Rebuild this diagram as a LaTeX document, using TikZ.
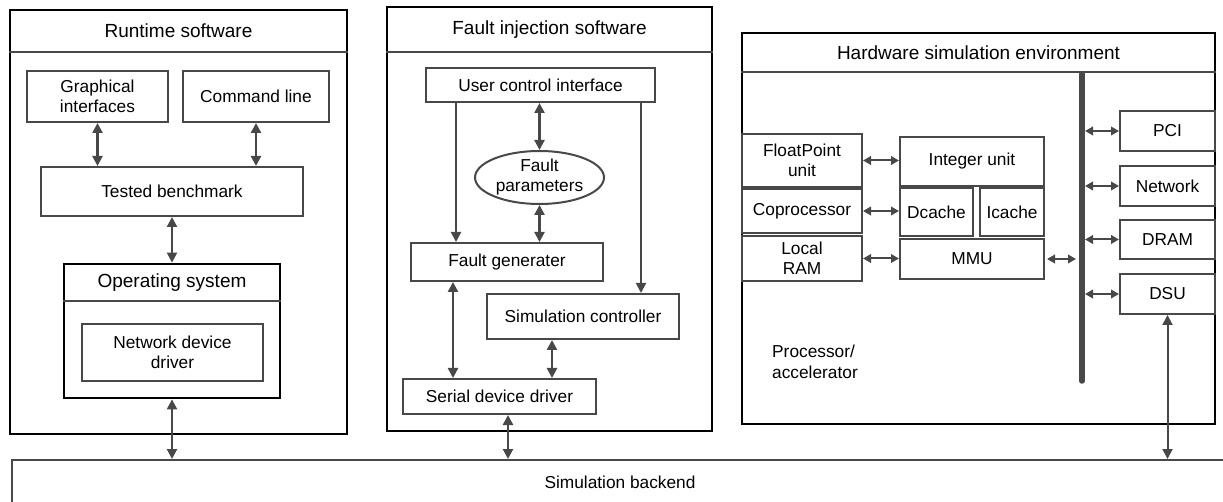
\documentclass[tikz,border=0pt]{standalone}
\usepackage{fontspec}
\setmainfont{Liberation Sans}
\usetikzlibrary{arrows.meta,shapes.geometric}
\definecolor{lc}{HTML}{484848}
\begin{document}
\begin{tikzpicture}[x=1pt,y=-1pt,
 every node/.style={font=\fontsize{17.3}{20}\selectfont, inner sep=0pt, align=center},
 ttl/.style={font=\fontsize{19}{22}\selectfont},
 sz/.style 2 args={minimum width=#1pt, minimum height=#2pt},
 outer/.style={draw=black, line width=2.8pt},
 box/.style={draw=lc, line width=2pt},
 arr/.style={draw=lc, line width=2.3pt, {Triangle[length=10pt,width=10pt]}-{Triangle[length=10pt,width=10pt]}},
 harr/.style={draw=lc, line width=2pt, {Triangle[length=8pt,width=8.5pt]}-{Triangle[length=8pt,width=8.5pt]}},
 arrone/.style={draw=lc, line width=2pt, -{Triangle[length=10pt,width=10pt]}},
]
\clip (0,0) rectangle (1223,502);
\fill[white] (0,0) rectangle (1223,502);

% ---------------- Simulation backend
\node[draw=lc, line width=2pt, sz={1238}{70}] (be) at (631,495) {};
\node (belbl) at (620,482) {Simulation backend};

% ---------------- Runtime software
\node[outer, sz={337}{424}] (rt) at (178.5,222) {};
\draw[box] (rt.west |- 0,52) -- (rt.east |- 0,52);
\node[ttl] (rtt) at (178.5,31) {Runtime software};
\node[box, sz={141}{51}] (gi) at (97.5,96.5) {Graphical\\interfaces};
\node[box, sz={146}{51}] (cl) at (256,96.5) {Command line};
\node[box, sz={262}{49}] (tb) at (172,191.5) {Tested benchmark};
\node[outer, sz={216}{134}] (os) at (172,331) {};
\draw[box] (os.west |- 0,301) -- (os.east |- 0,301);
\node[ttl] (ost) at (172,283) {Operating system};
\node[box, sz={181}{57}] (ndd) at (172.5,352.5) {Network device\\driver};

\draw[arr] (gi.south) -- (gi.south |- tb.north);
\draw[arr] (cl.south) -- (cl.south |- tb.north);
\draw[arr] (tb.south) -- (tb.south |- os.north);
\draw[arr] (os.south) -- (os.south |- be.north);

% ---------------- Fault injection software
\node[outer, sz={325}{424}] (fi) at (549.5,219) {};
\draw[box] (fi.west |- 0,52) -- (fi.east |- 0,52);
\node[ttl] (fit) at (549.5,29.5) {Fault injection software};
\node[box, sz={229}{34}] (uci) at (540.5,85) {User control interface};
\node[box, ellipse, sz={129}{53}] (fp) at (539.5,177.5) {Fault\\parameters};
\node[box, sz={192}{38}] (fg) at (507,262) {Fault generater};
\node[box, sz={192}{45}] (sc) at (583,316.5) {Simulation controller};
\node[box, sz={193}{35}] (sdd) at (499.5,396.5) {Serial device driver};

\draw[arr] (fp.north |- uci.south) -- (fp.north);
\draw[arr] (fp.south) -- (fp.south |- fg.north);
\draw[arrone] ([xshift=31pt]uci.south west) -- ([xshift=31pt]uci.south west |- fg.north);
\draw[arrone] ([xshift=-15pt]uci.south east) -- ([xshift=-15pt]uci.south east |- sc.north);
\draw[arr] ([xshift=43pt]fg.south west) -- ([xshift=43pt]fg.south west |- sdd.north);
\draw[arr] ([xshift=66pt]sc.south west) -- ([xshift=66pt]sc.south west |- sdd.north);
\draw[arr] ([xshift=106pt]sdd.south west) -- ([xshift=106pt]sdd.south west |- be.north);

% ---------------- Hardware simulation environment
\node[outer, sz={473}{391}] (hw) at (978.5,228.5) {};
\draw[box] (hw.west |- 0,72) -- (hw.east |- 0,72);
\node[ttl] (hwt) at (978.5,52.5) {Hardware simulation environment};
\node[box, sz={120}{53}] (fpu) at (802,160.5) {FloatPoint\\unit};
\node[box, sz={120}{44}] (cop) at (802,211) {Coprocessor};
\node[box, sz={120}{45}] (lram) at (802,258.5) {Local\\RAM};
\node[box, sz={144}{49}] (iu) at (972,161.5) {Integer unit};
\node[box, sz={73}{48}] (dc) at (936.5,212) {Dcache};
\node[box, sz={64}{48}] (ic) at (1012,212) {Icache};
\node[box, sz={144}{40}] (mmu) at (972,259) {MMU};
\node[box, sz={95}{40}] (pci) at (1167.5,131) {PCI};
\node[box, sz={95}{40}] (net) at (1167.5,186) {Network};
\node[box, sz={95}{39}] (dram) at (1167.5,239.5) {DRAM};
\node[box, sz={95}{40}] (dsu) at (1167.5,294) {DSU};
\node[anchor=west, align=left, font=\fontsize{17.3}{21}\selectfont] (pa) at (772,362) {Processor/\\accelerator};

\coordinate (bt) at (1082,74);
\coordinate (bb) at (1082,381);
\draw[lc, line width=5.5pt, line cap=round] (bt) -- (bb);

\draw[harr] (fpu.east) -- (fpu.east -| iu.west);
\draw[harr] (cop.east) -- (cop.east -| dc.west);
\draw[harr] (lram.east) -- (lram.east -| mmu.west);
\draw[harr, shorten <=2pt, shorten >=6pt] (mmu.east) -- (mmu.east -| bt);
\draw[harr, shorten <=3pt] (pci.west -| bt) -- (pci.west);
\draw[harr, shorten <=3pt] (net.west -| bt) -- (net.west);
\draw[harr, shorten <=3pt] (dram.west -| bt) -- (dram.west);
\draw[harr, shorten <=3pt] (dsu.west -| bt) -- (dsu.west);
\draw[arr, line width=2pt] (dsu.south) -- (dsu.south |- be.north);
\end{tikzpicture}
\end{document}
